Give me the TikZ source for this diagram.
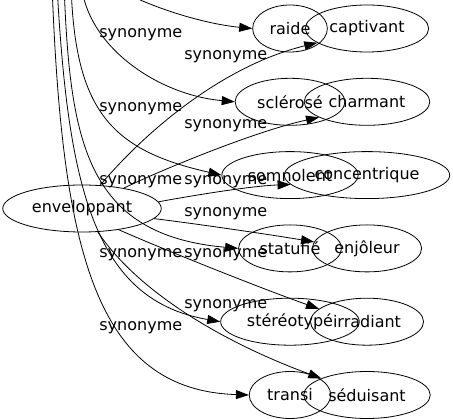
\documentclass[tikz,border=0pt]{standalone}
\usepackage{fontspec}
\setmainfont{DejaVu Sans}
\usepackage{tikz}
\usetikzlibrary{shapes,arrows.meta,positioning}
\tikzset{
    word/.style={
        ellipse,
        draw,
        inner xsep=6pt,
        inner ysep=0pt,
        minimum height=47pt,
        font=\fontsize{16}{19}\selectfont,
    },
    lbl/.style={
        inner sep=0pt,
        anchor=base west,
        font=\fontsize{16}{19}\selectfont,
    },
}

\begin{document}
\begin{tikzpicture}[x=1pt,y=-1pt,node distance=25.5pt,>={Triangle[length=13pt,width=9pt]},line width=0.8pt]
    \useasboundingbox (0,0) rectangle (453,419);
    \clip (0,0) rectangle (453,419);
    \node [word] (env) at (82,208.5) {enveloppant};
    \node [word] (raide) at (290,28.5) {raide};
    \node [word] (scl) [below=of raide] {sclérosé};
    \node [word] (somn) [below=of scl] {somnolent};
    \node [word] (stat) [below=of somn] {statufié};
    \node [word] (ster) [below=of stat] {stéréotypé};
    \node [word] (tran) [below=of ster] {transi};
    \node [word] (capt) at (367,28.5) {captivant};
    \node [word] (charm) [below=of capt] {charmant};
    \node [word] (conc) [below=of charm] {concentrique};
    \node [word] (enj) [below=of conc] {enjôleur};
    \node [word] (irr) [below=of enj] {irradiant};
    \node [word] (sed) [below=of irr] {séduisant};
    % edges coming in from above the frame
    \coordinate (top-raide) at (110,-15);
    \coordinate (top-scl) at (82,-10);
    \coordinate (top-somn) at (71,-15);
    \coordinate (top-stat) at (64,-15);
    \coordinate (top-ster) at (57,-15);
    \coordinate (top-tran) at (52,-15);
    \draw[->] (top-raide) .. controls (150,8) and (205,24) .. (raide.west);
    \draw[->] (top-scl) .. controls (92,50) and (160,95) .. (scl.west) node[lbl] at (99,38) {synonyme};
    \draw[->] (top-somn) .. controls (75,110) and (110,150) .. (somn.west) node[lbl] at (99,112) {synonyme};
    \draw[->] (top-stat) .. controls (70,140) and (85,235) .. (stat.west) node[lbl] at (99,185) {synonyme};
    \draw[->] (top-ster) .. controls (68,190) and (95,300) .. (ster.west) node[lbl] at (99,258) {synonyme};
    \draw[->] (top-tran) .. controls (62,250) and (95,390) .. (tran.west) node[lbl] at (99,331) {synonyme};
    % edges from enveloppant
    \draw[->] (env.52) .. controls (145,132) and (222,66) .. (capt.196) node[lbl] at (184,60) {synonyme};
    \draw[->] (env.26) .. controls (170,166) and (260,130) .. (charm.198) node[lbl] at (184,129) {synonyme};
    \draw[->] (env.5) .. controls (190,196) and (250,186) .. (conc.187) node[lbl] at (184,185) {synonyme};
    \draw[->] (env.-8) .. controls (190,223) and (260,233) .. (enj.173) node[lbl] at (184,217) {synonyme};
    \draw[->] (env.-30) .. controls (160,248) and (260,288) .. (irr.165) node[lbl] at (184,258) {synonyme};
    \draw[->] (env.-56) .. controls (140,295) and (230,345) .. (sed.160) node[lbl] at (184,309) {synonyme};
\end{tikzpicture}
\end{document}
